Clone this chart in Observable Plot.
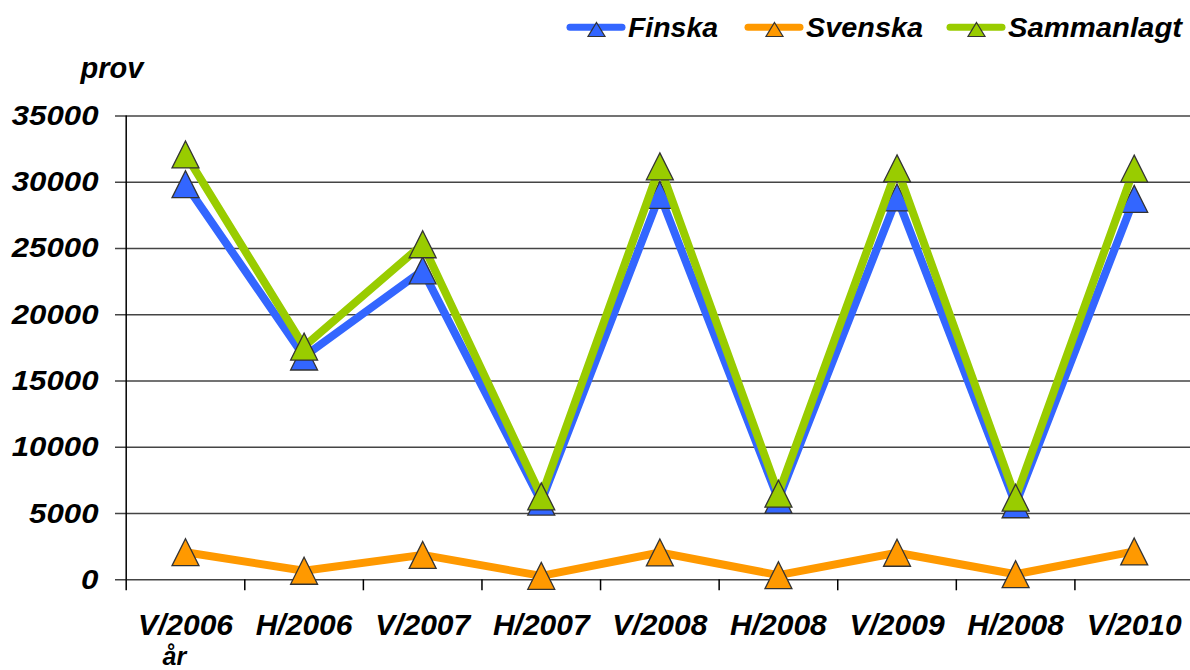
<!DOCTYPE html>
<html><head><meta charset="utf-8">
<script src="https://cdn.jsdelivr.net/npm/d3@7"></script>
<script src="https://cdn.jsdelivr.net/npm/@observablehq/plot@0.6"></script>
<style>
body{margin:0;background:#fff;}
#wrap{position:relative;width:1190px;height:670px;overflow:hidden;font-family:"Liberation Sans",Arial,sans-serif;}
#wrap svg{position:absolute;left:0;top:0;}
</style></head><body><div id="wrap"></div>
<script>
const categories = ["V/2006","H/2006","V/2007","H/2007","V/2008","H/2008","V/2009","H/2008","V/2010"];
const finska     = [29850,16850,23350,5900,29050,6050,28850,5700,28750];
const svenska    = [2080,680,1880,300,2060,350,2040,420,2140];
const sammanlagt = [32100,17600,25320,6300,31200,6500,31050,6200,31030];
const yTicks = [0,5000,10000,15000,20000,25000,30000,35000];
const seriesNames = ["Finska","Svenska","Sammanlagt"];
const seriesColors = ["#3366FF","#FF9900","#99CC00"];
const seriesValues = [finska, svenska, sammanlagt];
const yTitle = "prov";
const xTitle = "år";

const tri = {draw(ctx, size){ const h = Math.sqrt(size); ctx.moveTo(0,-h/2); ctx.lineTo(h/2,h/2); ctx.lineTo(-h/2,h/2); ctx.closePath(); }};
const font = "'Liberation Sans', Arial, sans-serif";

const seriesMarks = [];
seriesNames.forEach((name, s) => {
  const rows = seriesValues[s].map((v, i) => ({i, cat: categories[i], series: name, value: v}));
  seriesMarks.push(Plot.line(rows, {x: d => d.i + 0.5, y: "value", stroke: seriesColors[s], strokeWidth: 8, strokeLinejoin: "round", strokeLinecap: "round"}));
  seriesMarks.push(Plot.dot(rows, {x: d => d.i + 0.5, y: "value", symbol: tri, r: 15.2, fill: seriesColors[s], stroke: "#333", strokeWidth: 1.3}));
});

const chart = Plot.plot({
  width: 1190, height: 670,
  marginLeft: 125, marginRight: 0, marginTop: 115.5, marginBottom: 670 - 579.3,
  style: {fontFamily: font, fontStyle: "italic", fontWeight: "bold", color: "#000", background: "transparent"},
  x: {type: "linear", domain: [0, 9], range: [125.7, 1193], axis: null, label: null},
  y: {domain: [0, 35000], axis: null, label: null},
  marks: [
    Plot.gridY(yTicks, {stroke: "#444", strokeOpacity: 1, strokeWidth: 1.5, insetLeft: -10}),
    Plot.axisY(yTicks, {tickSize: 0, tickPadding: 27, fontSize: 28, fontStyle: "italic", fontWeight: "bold", label: null, tickFormat: d => String(d)}),
    Plot.ruleX([0], {stroke: "#000", strokeWidth: 1.5}),
    Plot.axisX(d3.range(10), {tickSize: 11, tickFormat: () => "", label: null, stroke: "#000", strokeWidth: 1.5}),
    Plot.text(categories, {x: (d, i) => i + 0.5, frameAnchor: "bottom", lineAnchor: "bottom", dy: 55.5, fontSize: 30, fontStyle: "italic", fontWeight: "bold", fill: "#000"}),
    Plot.text([yTitle], {frameAnchor: "top-left", textAnchor: "start", lineAnchor: "bottom", dx: -45, dy: -38.5, fontSize: 29, fontStyle: "italic", fontWeight: "bold", fill: "#000"}),
    Plot.text([xTitle], {frameAnchor: "bottom-left", textAnchor: "start", lineAnchor: "bottom", dx: 37, dy: 84.7, fontSize: 25, fontStyle: "italic", fontWeight: "bold", fill: "#000"}),
    ...seriesMarks
  ]
});
document.getElementById("wrap").appendChild(chart);

// stretch y tick labels slightly to match reference widths
chart.querySelectorAll('g[aria-label="y-axis tick label"] text').forEach(t => {
  const n = t.textContent.length;
  t.setAttribute("textLength", (n * 17.35).toFixed(1));
  t.setAttribute("lengthAdjust", "spacingAndGlyphs");
});

// legend overlay
const legendX = [567, 745, 947];
const legendW = [90, 117, 174];
const leg = d3.select("#wrap").append("svg").attr("width", 1190).attr("height", 50)
  .style("font-family", font);
seriesNames.forEach((name, s) => {
  const x0 = legendX[s];
  const g = leg.append("g");
  g.append("line").attr("x1", x0 + 3).attr("x2", x0 + 55).attr("y1", 27.3).attr("y2", 27.3)
    .attr("stroke", seriesColors[s]).attr("stroke-width", 7).attr("stroke-linecap", "round");
  const cx = x0 + 29.5;
  g.append("path").attr("d", `M${cx},22.5L${cx + 8.5},36.5L${cx - 8.5},36.5Z`)
    .attr("fill", seriesColors[s]).attr("stroke", "#333").attr("stroke-width", 1.2);
  g.append("text").attr("x", x0 + 61).attr("y", 37.3).text(name)
    .attr("font-size", 28).attr("font-style", "italic").attr("font-weight", "bold").attr("fill", "#000")
    .attr("textLength", legendW[s]).attr("lengthAdjust", "spacingAndGlyphs");
});
</script></body></html>
